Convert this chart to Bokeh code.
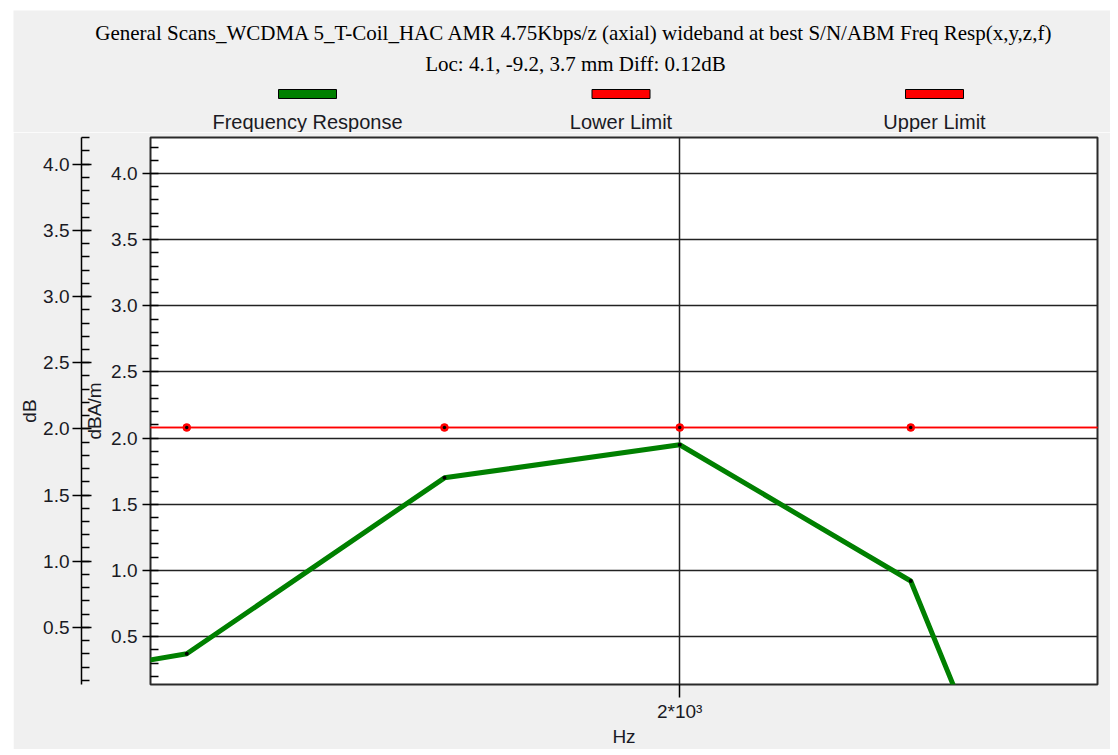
from bokeh.plotting import figure
from bokeh.models import (Range1d, LinearAxis, FixedTicker, SingleIntervalTicker,
                          PrintfTickFormatter, ColumnDataSource)
from bokeh.layouts import column
from bokeh.core.properties import value
from bokeh.embed import file_html
from bokeh.resources import INLINE

# ---------------- data ----------------
title_lines = [
    "General Scans_WCDMA 5_T-Coil_HAC AMR 4.75Kbps/z (axial) wideband at best S/N/ABM Freq Resp(x,y,z,f)",
    "Loc: 4.1, -9.2, 3.7 mm Diff: 0.12dB",
]
series_names = ["Frequency Response", "Lower Limit", "Upper Limit"]
series_colors = ["#008000", "#ff0000", "#ff0000"]

freq_hz = [300, 468, 1000, 2000, 3950, 5000]
freq_response_db = [0.18, 0.37, 1.70, 1.95, 0.92, -0.56]
limit_freq_hz = [300, 468, 1000, 2000, 3950, 8000]
lower_limit_db = [2.08, 2.08, 2.08, 2.08, 2.08, 2.08]
upper_limit_db = [2.08, 2.08, 2.08, 2.08, 2.08, 2.08]

x_tick_values = [2000]
x_tick_labels = ["2*10\u00b3"]
x_label = "Hz"
y_label_inner = "dBA/m"
y_label_outer = "dB"

AX_FONT = "Liberation Sans"
FS = "19px"
TXT = "#1a1a24"
GRAY = "#f0f0f0"
W = 1097

# ---------------- header (title + legend) ----------------
h = figure(width=W, height=122, x_range=Range1d(13, 13 + W), y_range=Range1d(132, 10),
           output_backend="svg", toolbar_location=None, min_border=0,
           x_axis_location=None, y_axis_location=None,
           background_fill_color=GRAY, border_fill_color=GRAY, outline_line_color=None)
h.frame_align = False
h.grid.visible = False
h.text(x=[574, 575], y=[32, 63], text=title_lines,
       text_font=value("Liberation Serif"), text_font_size="21px",
       text_align="center", text_baseline="middle", text_color="black")
leg_x = [307 + 313.5 * i for i in range(len(series_names))]
h.rect(x=leg_x, y=[93.5] * 3, width=58, height=9, fill_color=series_colors,
       line_color="black", line_width=1)
h.text(x=leg_x, y=[121] * 3, text=series_names, text_font=value(AX_FONT),
       text_font_size="20px", text_align="center", text_baseline="middle", text_color=TXT)

# ---------------- main plot ----------------
p = figure(width=W, height=617, x_axis_type="log",
           x_range=Range1d(420.6, 6848), y_range=Range1d(0.138, 4.272),
           output_backend="svg", toolbar_location=None,
           min_border_left=137, min_border_right=W - 137 - 947, min_border_top=5,
           min_border_bottom=61,
           background_fill_color="white", border_fill_color=GRAY,
           outline_line_color="#2a2a2a", outline_line_width=2)
p.frame_align = False
p.extra_y_ranges = {"outer": Range1d(0.068, 4.202)}

# x axis
xa = p.xaxis[0]
xa.ticker = FixedTicker(ticks=x_tick_values, minor_ticks=[])
xa.major_label_overrides = dict(zip(x_tick_values, x_tick_labels))
xa.axis_label = x_label
xa.axis_line_color = None
xa.major_tick_in = 0
xa.major_tick_out = 13
xa.major_tick_line_color = "black"
xa.major_tick_line_width = 1.5
xa.major_label_standoff = 3
xa.axis_label_standoff = 1
xa.major_label_text_font = AX_FONT
xa.major_label_text_font_size = FS
xa.major_label_text_color = TXT
xa.axis_label_text_font = AX_FONT
xa.axis_label_text_font_size = FS
xa.axis_label_text_font_style = "normal"
xa.axis_label_text_color = TXT

# inner y axis
ya = p.yaxis[0]
ya.ticker = SingleIntervalTicker(interval=0.5, num_minor_ticks=5)
ya.formatter = PrintfTickFormatter(format="%.1f")
ya.axis_label = y_label_inner
ya.axis_line_color = None
ya.major_tick_in = 0
ya.major_tick_out = 8
ya.minor_tick_in = 8
ya.minor_tick_out = 0
ya.major_tick_line_color = "black"
ya.minor_tick_line_color = "black"
ya.major_tick_line_width = 1.5
ya.minor_tick_line_width = 1.5
ya.major_label_standoff = 5
ya.axis_label_standoff = 3
ya.major_label_text_font = AX_FONT
ya.major_label_text_font_size = FS
ya.major_label_text_color = TXT
ya.axis_label_text_font = AX_FONT
ya.axis_label_text_font_size = FS
ya.axis_label_text_font_style = "normal"
ya.axis_label_text_color = TXT

# spacer between inner and outer axes
spacer = LinearAxis(ticker=FixedTicker(ticks=[], minor_ticks=[]), axis_line_color=None,
                    major_tick_out=12, major_tick_in=0, minor_tick_out=0, minor_tick_in=0,
                    major_tick_line_color=None, minor_tick_line_color=None,
                    major_label_standoff=0)
p.add_layout(spacer, "left")

# outer y axis
oa = LinearAxis(y_range_name="outer",
                ticker=SingleIntervalTicker(interval=0.5, num_minor_ticks=5),
                formatter=PrintfTickFormatter(format="%.1f"),
                axis_label=y_label_outer,
                axis_line_color="black", axis_line_width=1.5,
                major_tick_out=9, major_tick_in=10, minor_tick_in=8, minor_tick_out=0,
                major_tick_line_color="black", minor_tick_line_color="black",
                major_tick_line_width=1.5, minor_tick_line_width=1.5,
                major_label_standoff=3, axis_label_standoff=0,
                major_label_text_font=AX_FONT, major_label_text_font_size=FS,
                major_label_text_color=TXT,
                axis_label_text_font=AX_FONT, axis_label_text_font_size=FS,
                axis_label_text_font_style="normal", axis_label_text_color=TXT)
p.add_layout(oa, "left")

# grids
p.ygrid.grid_line_color = "#222222"
p.ygrid.grid_line_width = 1.5
p.xgrid.ticker = FixedTicker(ticks=x_tick_values, minor_ticks=[])
p.xgrid.grid_line_color = "#222222"
p.xgrid.grid_line_width = 1.5

src = ColumnDataSource(dict(f=freq_hz, fr=freq_response_db))
lim = ColumnDataSource(dict(f=limit_freq_hz, lo=lower_limit_db, up=upper_limit_db))

p.line("f", "fr", source=src, line_color=series_colors[0], line_width=5)
p.scatter("f", "fr", source=src, size=4, fill_color="black", line_color=None)
for col, c in (("lo", series_colors[1]), ("up", series_colors[2])):
    p.line("f", col, source=lim, line_color=c, line_width=1.5)
    p.scatter("f", col, source=lim, size=8, fill_color=c, line_color=None)
    p.scatter("f", col, source=lim, size=3.5, fill_color="black", line_color=None)

layout = column(h, p, margin=(10, 0, 0, 13), spacing=0)

open("out.html", "w").write(file_html(layout, INLINE))
